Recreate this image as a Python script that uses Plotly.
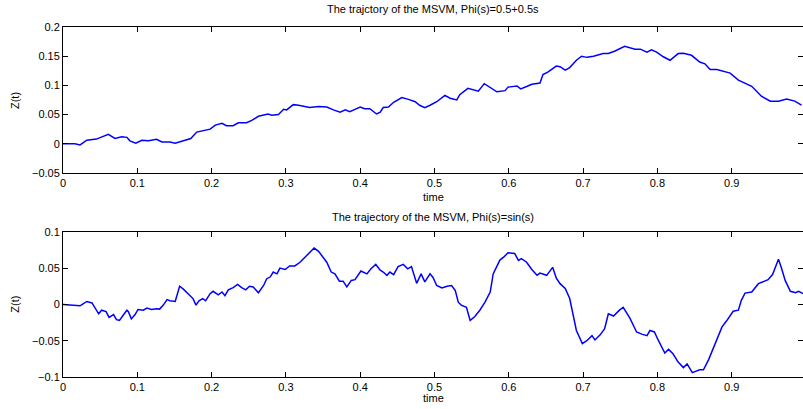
import plotly.graph_objects as go

# Top panel: Phi(s)=0.5+0.5s  (time, Z(t))
t_top = [0, 0.016, 0.023, 0.032, 0.045, 0.054, 0.061, 0.070, 0.079, 0.086, 0.090, 0.098,
         0.106, 0.115, 0.126, 0.133, 0.144, 0.151, 0.160, 0.166, 0.172, 0.180, 0.189, 0.198,
         0.205, 0.214, 0.220, 0.229, 0.236, 0.247, 0.254, 0.263, 0.276, 0.281, 0.290, 0.297,
         0.301, 0.310, 0.317, 0.332, 0.344, 0.355, 0.364, 0.373, 0.380, 0.386, 0.393, 0.400,
         0.406, 0.413, 0.422, 0.427, 0.431, 0.438, 0.445, 0.456, 0.465, 0.474, 0.480, 0.487,
         0.494, 0.503, 0.514, 0.521, 0.530, 0.534, 0.545, 0.559, 0.567, 0.575, 0.584, 0.595,
         0.599, 0.611, 0.616, 0.624, 0.631, 0.642, 0.646, 0.653, 0.664, 0.669, 0.676, 0.682,
         0.691, 0.698, 0.705, 0.714, 0.720, 0.727, 0.734, 0.743, 0.756, 0.763, 0.770, 0.777,
         0.786, 0.792, 0.799, 0.808, 0.817, 0.828, 0.835, 0.846, 0.857, 0.864, 0.871, 0.880,
         0.887, 0.898, 0.909, 0.920, 0.927, 0.940, 0.952, 0.963, 0.974, 0.985, 0.994]
z_top = [0, 0, -0.002, 0.006, 0.008, 0.012, 0.016, 0.009, 0.012, 0.011, 0.005, 0.001,
         0.006, 0.005, 0.0075, 0.003, 0.003, 0.001, 0.004, 0.006, 0.009, 0.020, 0.022, 0.025,
         0.032, 0.035, 0.031, 0.031, 0.036, 0.036, 0.040, 0.047, 0.051, 0.049, 0.050, 0.059,
         0.058, 0.067, 0.066, 0.062, 0.064, 0.063, 0.058, 0.054, 0.058, 0.055, 0.059, 0.063,
         0.060, 0.060, 0.051, 0.054, 0.062, 0.063, 0.071, 0.079, 0.076, 0.072, 0.066, 0.062,
         0.066, 0.072, 0.083, 0.078, 0.075, 0.084, 0.095, 0.090, 0.103, 0.096, 0.089, 0.091,
         0.097, 0.099, 0.094, 0.098, 0.102, 0.104, 0.1185, 0.123, 0.133, 0.132, 0.126, 0.1305,
         0.143, 0.150, 0.148, 0.150, 0.152, 0.1545, 0.1545, 0.159, 0.167, 0.165, 0.162, 0.162,
         0.157, 0.161, 0.157, 0.149, 0.143, 0.1545, 0.155, 0.1515, 0.140, 0.137, 0.127, 0.127,
         0.125, 0.121, 0.109, 0.102, 0.0985, 0.0815, 0.073, 0.073, 0.0765, 0.073, 0.066]

# Bottom panel: Phi(s)=sin(s)
t_bot = [0, 0.014, 0.023, 0.026, 0.032, 0.039, 0.043, 0.048, 0.052, 0.058, 0.062, 0.068,
         0.072, 0.076, 0.081, 0.086, 0.088, 0.092, 0.097, 0.101, 0.108, 0.113, 0.119, 0.126,
         0.130, 0.135, 0.140, 0.144, 0.151, 0.157, 0.162, 0.166, 0.172, 0.175, 0.179, 0.183,
         0.188, 0.192, 0.198, 0.202, 0.209, 0.214, 0.218, 0.2225, 0.229, 0.235, 0.2405, 0.246,
         0.251, 0.256, 0.263, 0.270, 0.274, 0.279, 0.283, 0.288, 0.292, 0.299, 0.305, 0.312,
         0.319, 0.326, 0.332, 0.338, 0.344, 0.350, 0.355, 0.361, 0.366, 0.372, 0.377, 0.382,
         0.388, 0.393, 0.401, 0.409, 0.4145, 0.421, 0.427, 0.431, 0.436, 0.440, 0.445, 0.451,
         0.458, 0.464, 0.469, 0.476, 0.482, 0.487, 0.494, 0.498, 0.503, 0.510, 0.517, 0.523,
         0.528, 0.532, 0.536, 0.543, 0.548, 0.554, 0.561, 0.568, 0.575, 0.579, 0.588, 0.593,
         0.599, 0.608, 0.613, 0.617, 0.624, 0.631, 0.638, 0.642, 0.651, 0.659, 0.664, 0.669,
         0.676, 0.682, 0.687, 0.691, 0.699, 0.705, 0.712, 0.716, 0.723, 0.729, 0.734, 0.741,
         0.749, 0.754, 0.763, 0.772, 0.779, 0.786, 0.790, 0.796, 0.801, 0.810, 0.815, 0.821,
         0.828, 0.835, 0.840, 0.847, 0.857, 0.862, 0.869, 0.878, 0.887, 0.893, 0.902, 0.909,
         0.913, 0.918, 0.927, 0.936, 0.949, 0.955, 0.963, 0.967, 0.972, 0.979, 0.986, 0.990, 0.996]
z_bot = [0, -0.001, -0.002, 0, 0.004, 0.002, -0.004, -0.013, -0.008, -0.010, -0.018, -0.014,
         -0.021, -0.022, -0.015, -0.008, -0.010, -0.020, -0.014, -0.007, -0.008, -0.005, -0.007, -0.006,
         -0.0065, -0.001, 0.0065, 0.005, 0.004, 0.025, 0.021, 0.017, 0.010, 0.008, -0.001, 0.005,
         0.008, 0.005, 0.0147, 0.018, 0.013, 0.017, 0.012, 0.020, 0.023, 0.0275, 0.023, 0.020,
         0.025, 0.024, 0.016, 0.026, 0.035, 0.038, 0.0445, 0.042, 0.050, 0.048, 0.053, 0.053,
         0.058, 0.065, 0.072, 0.0775, 0.073, 0.065, 0.058, 0.0445, 0.042, 0.032, 0.032, 0.024,
         0.033, 0.034, 0.046, 0.042, 0.049, 0.055, 0.047, 0.0445, 0.040, 0.0445, 0.041, 0.052,
         0.055, 0.049, 0.052, 0.029, 0.042, 0.031, 0.042, 0.037, 0.026, 0.0225, 0.025, 0.026,
         0.019, 0.003, -0.001, -0.004, -0.022, -0.017, -0.008, 0.003, 0.017, 0.042, 0.061, 0.065,
         0.071, 0.070, 0.0606, 0.063, 0.058, 0.048, 0.040, 0.043, 0.040, 0.051, 0.036, 0.0285,
         0.022, 0.008, -0.0175, -0.036, -0.054, -0.050, -0.043, -0.049, -0.042, -0.0335, -0.013, -0.016,
         -0.008, -0.004, -0.019, -0.038, -0.041, -0.043, -0.036, -0.038, -0.049, -0.067, -0.062, -0.068,
         -0.0795, -0.087, -0.082, -0.094, -0.090, -0.090, -0.076, -0.054, -0.031, -0.023, -0.0095, -0.008,
         0.0055, 0.0155, 0.017, 0.0285, 0.034, 0.041, 0.062, 0.050, 0.033, 0.018, 0.016, 0.018, 0.015]

x_ticks = [0, 0.1, 0.2, 0.3, 0.4, 0.5, 0.6, 0.7, 0.8, 0.9]
x_labels = ["0", "0.1", "0.2", "0.3", "0.4", "0.5", "0.6", "0.7", "0.8", "0.9"]
y_top_ticks = [-0.05, 0, 0.05, 0.1, 0.15, 0.2]
y_top_labels = ["\u22120.05", "0", "0.05", "0.1", "0.15", "0.2"]
y_bot_ticks = [-0.1, -0.05, 0, 0.05, 0.1]
y_bot_labels = ["\u22120.1", "\u22120.05", "0", "0.05", "0.1"]

title_top = "The trajctory of the MSVM, Phi(s)=0.5+0.5s"
title_bot = "The trajectory of the MSVM, Phi(s)=sin(s)"

FONT = "Liberation Sans, Arial, sans-serif"
fig = go.Figure()
fig.add_trace(go.Scatter(x=t_top, y=z_top, mode="lines", xaxis="x", yaxis="y",
                         line=dict(color="#0000ff", width=1.5), showlegend=False))
fig.add_trace(go.Scatter(x=t_bot, y=z_bot, mode="lines", xaxis="x2", yaxis="y2",
                         line=dict(color="#0000ff", width=1.5), showlegend=False))

axis_common = dict(showline=True, linecolor="black", linewidth=1, mirror="ticks",
                   ticks="inside", ticklen=5, tickcolor="black", showgrid=False,
                   zeroline=False, automargin=False,
                   tickfont=dict(family=FONT, size=11, color="black"))
xr = [0, 0.996]
fig.update_layout(
    width=803, height=409,
    margin=dict(l=63, r=0, t=27, b=32, autoexpand=False),
    paper_bgcolor="white", plot_bgcolor="white",
    font=dict(family=FONT, size=11, color="black"),
    xaxis=dict(domain=[0, 1], range=xr, tickvals=x_ticks, ticktext=x_labels, anchor="y", **axis_common),
    yaxis=dict(domain=[0.583, 1], range=[-0.05, 0.2], tickvals=y_top_ticks, ticktext=y_top_labels,
               anchor="x", **axis_common),
    xaxis2=dict(domain=[0, 1], range=xr, tickvals=x_ticks, ticktext=x_labels, anchor="y2", **axis_common),
    yaxis2=dict(domain=[0, 0.415], range=[-0.1, 0.1], tickvals=y_bot_ticks, ticktext=y_bot_labels,
                anchor="x2", **axis_common),
)

ann = [
    (title_top, 0.5, 1.05, 0),
    (title_bot, 0.5, 0.457, 0),
    ("time", 0.5, 0.514, 0),
    ("time", 0.5, -0.06, 0),
    ("Z(t)", -0.065, 0.791, -90),
    ("Z(t)", -0.065, 0.209, -90),
]
for text, x, y, ang in ann:
    fig.add_annotation(text=text, xref="paper", yref="paper", x=x, y=y, showarrow=False,
                       xanchor="center", yanchor="middle", textangle=ang,
                       font=dict(family=FONT, size=11, color="black"))

# remove the default 8px page margin so the figure fills the window exactly
fig.write_html("out.html", config={"displayModeBar": False},
               post_script="document.body.style.margin='0';document.body.style.overflow='hidden';")
